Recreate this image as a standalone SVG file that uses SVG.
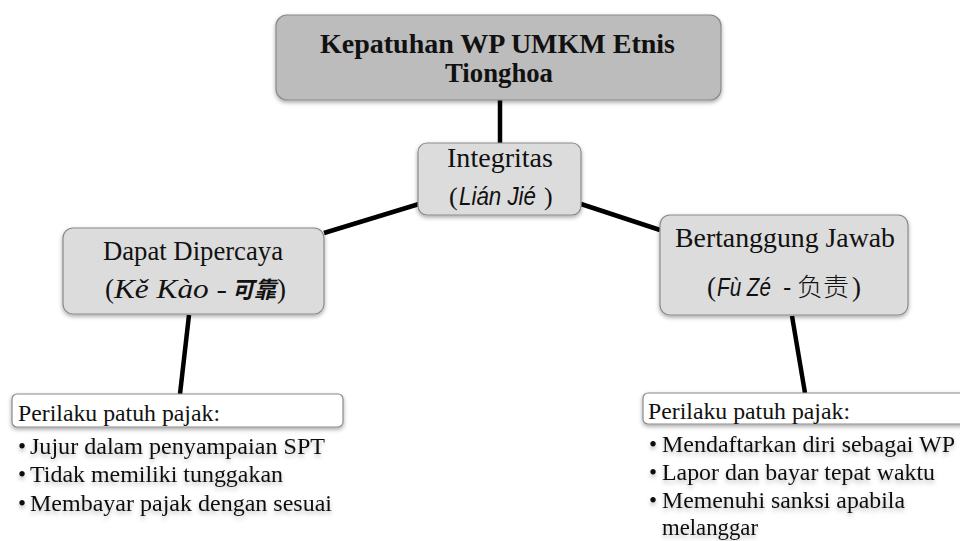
<svg xmlns="http://www.w3.org/2000/svg" width="960" height="541" viewBox="0 0 960 541">
<defs>
<filter id="sh" x="-10%" y="-20%" width="120%" height="150%">
<feDropShadow dx="0" dy="2" stdDeviation="2" flood-color="#000" flood-opacity="0.35"/>
</filter>
<filter id="tsh" x="-5%" y="-30%" width="110%" height="180%">
<feDropShadow dx="0" dy="3" stdDeviation="2" flood-color="#000" flood-opacity="0.25"/>
</filter>
</defs>
<style>
.box{stroke:#8a8a8a;stroke-width:1.2;filter:url(#sh)}
.dark{fill:#bcbcbc}
.light{fill:#dcdcdc}
.white{fill:#ffffff}
.conn line{stroke:#000;stroke-width:4.5;stroke-linecap:butt}
text{fill:#111}
.serif{font-family:"Liberation Serif","Noto Sans CJK SC",serif}
.sans{font-family:"Liberation Sans","Noto Sans CJK SC",sans-serif}
.cjk{font-family:"Noto Sans CJK SC",sans-serif}
.list{font-family:"Liberation Serif",serif;font-size:23px;filter:url(#tsh)}
</style>
<g id="connectors" class="conn">
<line x1="500" y1="100" x2="500" y2="143"/>
<line x1="419" y1="204" x2="324" y2="233"/>
<line x1="581" y1="204" x2="660" y2="230"/>
<line x1="189" y1="315" x2="180" y2="394"/>
<line x1="792" y1="316" x2="805" y2="393"/>
</g>
<g id="top">
<rect class="box dark" x="276" y="15" width="445" height="85" rx="11"/>
<text class="serif" x="320" y="53" font-size="27" font-weight="bold" textLength="355" lengthAdjust="spacingAndGlyphs">Kepatuhan WP UMKM Etnis</text>
<text class="serif" x="445" y="82" font-size="27" font-weight="bold" textLength="108" lengthAdjust="spacingAndGlyphs">Tionghoa</text>
</g>
<g id="integritas">
<rect class="box light" x="418" y="143" width="163" height="72" rx="9"/>
<text class="serif" x="447" y="167" font-size="28" textLength="106" lengthAdjust="spacingAndGlyphs">Integritas</text>
<text class="serif" x="449" y="205" font-size="26">(</text>
<text class="sans" x="459" y="205" font-size="25" font-style="italic" textLength="77" lengthAdjust="spacingAndGlyphs">Lián Jié</text>
<text class="serif" x="544" y="205" font-size="26">)</text>
</g>
<g id="dapat">
<rect class="box light" x="63" y="228" width="261" height="86" rx="10"/>
<text class="serif" x="103" y="260" font-size="27" textLength="180" lengthAdjust="spacingAndGlyphs">Dapat Dipercaya</text>
<text class="serif" x="105" y="298" font-size="27">(</text>
<text class="serif" x="114" y="298" font-size="27" font-style="italic" textLength="113" lengthAdjust="spacingAndGlyphs">Kě Kào -</text>
<text class="cjk" x="232" y="298" font-size="23" font-style="italic" font-weight="bold" textLength="44" lengthAdjust="spacingAndGlyphs">可靠</text>
<text class="serif" x="277" y="298" font-size="27">)</text>
</g>
<g id="bertanggung">
<rect class="box light" x="660" y="215" width="248" height="100" rx="10"/>
<text class="serif" x="707" y="296" font-size="27">(</text>
<text class="sans" x="717" y="296" font-size="25" font-style="italic" textLength="54" lengthAdjust="spacingAndGlyphs">Fù Zé</text>
<text class="sans" x="783" y="296" font-size="25">-</text>
<text class="cjk" x="797" y="296" font-size="25" font-weight="300" textLength="52" lengthAdjust="spacingAndGlyphs">负责</text>
<text class="serif" x="852" y="296" font-size="27">)</text>
<text class="serif" x="675" y="247" font-size="28" textLength="220" lengthAdjust="spacingAndGlyphs">Bertanggung Jawab</text>
</g>
<g id="perilaku-left">
<rect class="box white" x="12" y="394" width="331" height="33" rx="5"/>
<text class="serif" x="18" y="421" font-size="23" textLength="202" lengthAdjust="spacingAndGlyphs">Perilaku patuh pajak:</text>
<g class="list">
<text x="18" y="454">•</text><text x="30" y="454" textLength="295" lengthAdjust="spacingAndGlyphs">Jujur dalam penyampaian SPT</text>
<text x="18" y="482">•</text><text x="30" y="482" textLength="253" lengthAdjust="spacingAndGlyphs">Tidak memiliki tunggakan</text>
<text x="18" y="511">•</text><text x="30" y="511" textLength="302" lengthAdjust="spacingAndGlyphs">Membayar pajak dengan sesuai</text>
</g>
</g>
<g id="perilaku-right">
<rect class="box white" x="643" y="393" width="330" height="31" rx="5"/>
<text class="serif" x="648" y="419" font-size="23" textLength="202" lengthAdjust="spacingAndGlyphs">Perilaku patuh pajak:</text>
<g class="list">
<text x="649" y="452">•</text><text x="662" y="452" textLength="293" lengthAdjust="spacingAndGlyphs">Mendaftarkan diri sebagai WP</text>
<text x="649" y="480">•</text><text x="662" y="480" textLength="273" lengthAdjust="spacingAndGlyphs">Lapor dan bayar tepat waktu</text>
<text x="649" y="508">•</text><text x="662" y="508" textLength="243" lengthAdjust="spacingAndGlyphs">Memenuhi sanksi apabila</text>
<text x="662" y="535" textLength="96" lengthAdjust="spacingAndGlyphs">melanggar</text>
</g>
</g>
</svg>
